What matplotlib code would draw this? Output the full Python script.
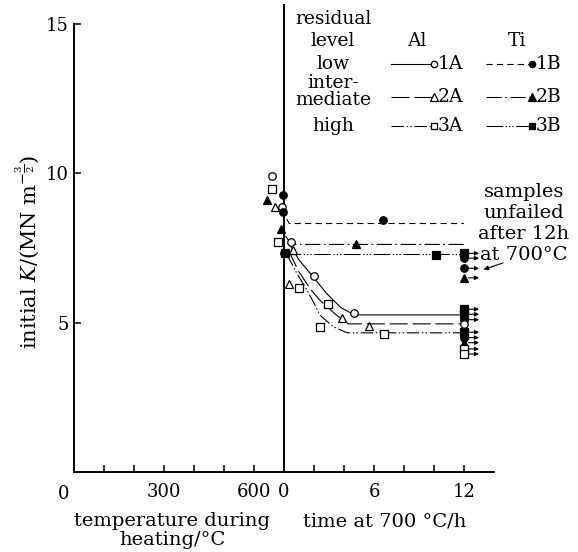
import matplotlib
matplotlib.use("Agg")
import matplotlib.pyplot as plt
from matplotlib.lines import Line2D
from matplotlib.transforms import blended_transform_factory

plt.rcParams["font.family"] = ["DejaVu Serif"]
plt.rcParams["mathtext.fontset"] = "dejavuserif"
plt.rcParams["lines.scale_dashes"] = False

W, H = 578, 552
FS_TICK = 13
FS_LABEL = 14
FS_KEY = 13.5

# ---- data -------------------------------------------------------------
# K values measured during heating (temperature in degC)
heat_series = ["1A", "3A", "2B", "1B", "2A", "1A", "1B", "2B", "3A"]
heat_temp = [661, 661, 642, 697, 670, 692, 697, 689, 681]
heat_K = [9.90, 9.46, 9.10, 9.29, 8.87, 8.87, 8.70, 8.13, 7.70]

# K values measured at 700 degC (time in h)
hold_series = ["1A", "2A", "3B", "1B", "1A", "2A", "3A", "1B", "2B", "3B",
               "3A", "1A", "2A", "2A", "3A", "3A"]
hold_time = [0.47, 0.58, 0.05, 0.0, 2.0, 0.33, 1.0, 6.6, 4.77, 10.1,
             2.9, 4.65, 3.87, 5.66, 2.42, 6.66]
hold_K = [7.70, 7.42, 7.32, 7.32, 6.57, 6.31, 6.16, 8.43, 7.62, 7.26,
          5.62, 5.34, 5.14, 4.88, 4.86, 4.62]

# samples still unfailed after 12 h at 700 degC
unfailed_series = ["3B", "1B", "1B", "2B",
                   "3B", "3B", "1B", "1A", "3B", "1B", "2B", "3A", "3A"]
unfailed_K = [7.32, 7.16, 6.82, 6.50,
              5.45, 5.28, 5.10, 4.96, 4.68, 4.50, 4.33, 4.12, 3.95]
unfailed_arrow = [True, True, True, True,
                  True, True, True, False, True, True, True, True, True]
unfailed_time = 12.0

# trend curves (time in h, K)
curve_t = {
    "1A": [0.4, 1.0, 2.0, 2.8, 3.8, 4.7, 12.0],
    "2A": [0.3, 1.0, 1.8, 2.4, 3.5, 4.3, 12.0],
    "3A": [0.2, 0.8, 1.4, 1.9, 2.4, 3.3, 4.2, 12.0],
    "1B": [0.0, 0.15, 0.35, 12.0],
    "2B": [0.1, 0.5, 12.0],
    "3B": [0.0, 12.0],
}
curve_K = {
    "1A": [7.60, 7.10, 6.50, 6.00, 5.50, 5.26, 5.26],
    "2A": [7.42, 6.70, 6.10, 5.75, 5.25, 4.96, 4.96],
    "3A": [7.28, 6.70, 6.20, 5.75, 5.25, 4.86, 4.66, 4.66],
    "1B": [8.80, 8.50, 8.32, 8.32],
    "2B": [7.90, 7.62, 7.62],
    "3B": [7.30, 7.30],
}

temp_ticks = [0, 300, 600]
time_ticks = [0, 6, 12]

# ---- styles -----------------------------------------------------------
marker = {"1A": "o", "2A": "^", "3A": "s", "1B": "o", "2B": "^", "3B": "s"}
filled = {"1A": False, "2A": False, "3A": False, "1B": True, "2B": True, "3B": True}
dashes = {
    "1A": None,
    "1B": (4.5, 3.0),
    "2A": (13, 3.5),
    "2B": (11, 2.5, 1.2, 2.5),
    "3A": (9, 2, 1, 1.6, 1, 2),
    "3B": (12, 1.8, 1, 1.4, 1, 1.4, 1, 1.8),
}


def u_temp(T):
    # shared horizontal coordinate: 100 degC of heating spans the same as 2 h
    return (T - 700) / 50.0


def u_time(t):
    return t


def mstyle(s, size=5.4):
    return dict(marker=marker[s], markersize=size * (1.1 if marker[s] == "^" else 1.0),
                markerfacecolor="black" if filled[s] else "white",
                markeredgecolor="black", markeredgewidth=0.9, linestyle="none")


def lstyle(s):
    d = dict(color="black", linewidth=0.8)
    if dashes[s] is None:
        d["linestyle"] = "-"
    else:
        d["linestyle"] = (0, dashes[s])
    return d


fig = plt.figure(figsize=(W / 100, H / 100), dpi=100)
ax = fig.add_axes([74 / W, 1 - 472 / H, (494 - 74) / W, (472 - 24) / H])
ax.set_xlim(-14, 14)
ax.set_ylim(0, 15)

for side in ("top", "right"):
    ax.spines[side].set_visible(False)
for side in ("left", "bottom"):
    ax.spines[side].set_linewidth(1.4)

# boundary between heating and holding
ax.plot([0, 0], [0, 15.65], color="black", linewidth=1.4, clip_on=False, zorder=3)

# curves
for s in curve_t:
    ax.plot([u_time(t) for t in curve_t[s]], curve_K[s], **lstyle(s), zorder=2)

# points
for s, T, k in zip(heat_series, heat_temp, heat_K):
    ax.plot([u_temp(T)], [k], **mstyle(s), zorder=4)
for s, t, k in zip(hold_series, hold_time, hold_K):
    ax.plot([u_time(t)], [k], **mstyle(s), zorder=4)
for s, k, arr in zip(unfailed_series, unfailed_K, unfailed_arrow):
    ax.plot([u_time(unfailed_time)], [k], **mstyle(s), zorder=4, clip_on=False)
    if arr:
        ax.annotate("", xy=(u_time(unfailed_time) + 1.0, k),
                    xytext=(u_time(unfailed_time) + 0.3, k),
                    arrowprops=dict(arrowstyle="-|>", color="black", lw=0.8,
                                    mutation_scale=6, shrinkA=0, shrinkB=0),
                    annotation_clip=False)

# ticks
ax.tick_params(direction="in", length=5, width=1.1, labelsize=FS_TICK)
ax.tick_params(axis="x", pad=8)
ax.tick_params(axis="y", pad=4)
ax.set_yticks([5, 10, 15])
ax.set_yticklabels(["5", "10", "15"])
xt = [u_temp(T) for T in range(100, 701, 100)] + [u_time(t) for t in range(2, 13, 2)]
ax.set_xticks(xt)
lab = {u_temp(T): str(T) for T in temp_ticks if T > 0}
lab.update({u_time(t): str(t) for t in time_ticks})
ax.set_xticklabels([lab.get(v, "") for v in xt])
bt = blended_transform_factory(ax.transData, ax.transAxes)
ax.text(u_temp(0) - 0.7, -0.05, "0", transform=bt, ha="center", va="center", fontsize=FS_TICK)

# axis titles
fig.text(172 / W, 1 - 521 / H, "temperature during", ha="center", va="center", fontsize=FS_LABEL)
fig.text(172 / W, 1 - 540 / H, "heating/\u00b0C", ha="center", va="center", fontsize=FS_LABEL)
fig.text(385 / W, 1 - 521 / H, "time at 700 \u00b0C/h", ha="center", va="center", fontsize=FS_LABEL)
fig.text(27 / W, 1 - 252 / H, r"initial $K$/(MN m$^{-\frac{3}{2}}$)", rotation=90,
         ha="center", va="center", fontsize=15)

# note on unfailed samples
note_lines = ["samples", "unfailed", "after 12h", "at 700\u00b0C"]
for i, txt in enumerate(note_lines):
    fig.text(524 / W, 1 - (192 + 21 * i) / H, txt, ha="center", va="center", fontsize=FS_LABEL)
ax.annotate("", xy=(13.3, 6.78), xytext=(14.6, 7.0),
            arrowprops=dict(arrowstyle="-|>", color="black", lw=0.8,
                            mutation_scale=7, shrinkA=0, shrinkB=0),
            annotation_clip=False)

# key
def F(x, y):
    return (x / W, 1 - y / H)

for txt, y in [("residual", 19), ("level", 41), ("low", 64), ("inter-", 83),
               ("mediate", 100), ("high", 126)]:
    fig.text(*F(333, y), txt, ha="center", va="center", fontsize=FS_KEY)
fig.text(*F(417, 41), "Al", ha="center", va="center", fontsize=FS_KEY)
fig.text(*F(517, 41), "Ti", ha="center", va="center", fontsize=FS_KEY)

rows = {"1": 64, "2": 97, "3": 126}
for lvl, y in rows.items():
    for s, x0, x1 in [(lvl + "A", 391, 432), (lvl + "B", 486, 530)]:
        fig.add_artist(Line2D([x0 / W, x1 / W], [1 - y / H] * 2,
                              transform=fig.transFigure, **lstyle(s)))
        fig.add_artist(Line2D([(x1 + 2) / W], [1 - y / H],
                              transform=fig.transFigure, **mstyle(s, 4.6)))
        fig.text((x1 + 6) / W, 1 - y / H, s, ha="left", va="center", fontsize=FS_KEY)

fig.savefig("out.png", dpi=100)
